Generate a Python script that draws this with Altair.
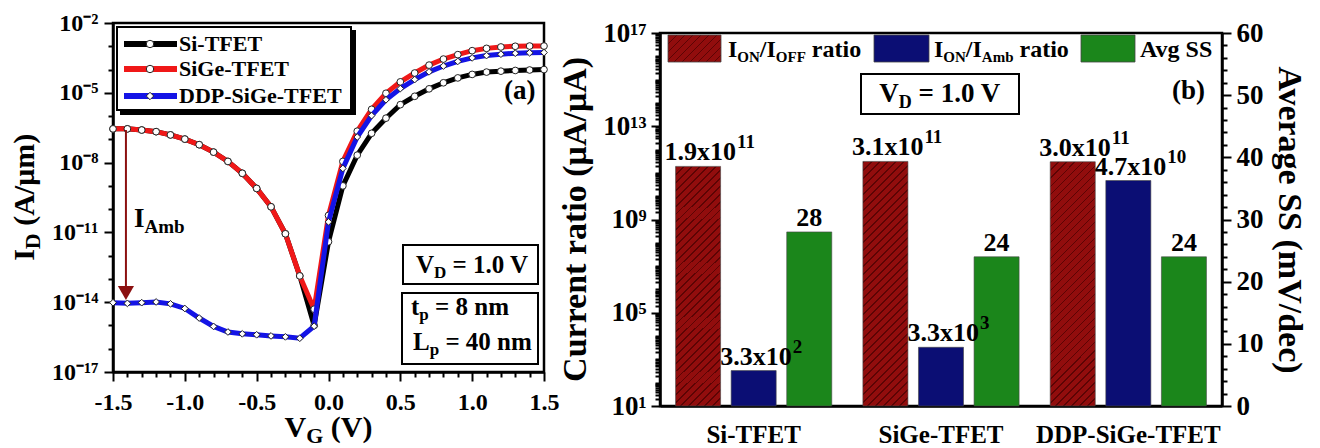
import altair as alt
import pandas as pd

FONT = "Liberation Serif"

# ---------------- panel (a): transfer characteristics ----------------
vg = [round(-1.5 + 0.1 * i, 1) for i in range(31)]
series_a = ["Si-TFET", "SiGe-TFET", "DDP-SiGe-TFET"]
# log10(I_D [A/um]), one value per V_G step
log_id_si = [-6.55, -6.55, -6.60, -6.67, -6.81, -6.99, -7.23, -7.55, -7.95, -8.46,
             -9.11, -9.90, -11.06, -12.87, -15.00, -11.40, -9.00, -7.68, -6.74, -6.09,
             -5.51, -5.15, -4.83, -4.57, -4.36, -4.21, -4.11, -4.07, -4.04, -4.02, -4.00]
log_id_sige = [-6.55, -6.55, -6.60, -6.67, -6.81, -6.99, -7.23, -7.55, -7.95, -8.46,
               -9.11, -9.90, -11.06, -12.87, -14.30, -10.27, -7.95, -6.65, -5.71, -5.02,
               -4.53, -4.15, -3.81, -3.55, -3.36, -3.19, -3.09, -3.03, -3.00, -2.99, -2.99]
log_id_ddp = [-14.02, -14.05, -14.02, -13.99, -14.07, -14.27, -14.68, -15.04, -15.28, -15.36,
              -15.40, -15.45, -15.49, -15.55, -15.03, -10.55, -8.25, -6.90, -5.98, -5.30,
              -4.82, -4.43, -4.10, -3.85, -3.65, -3.50, -3.40, -3.34, -3.30, -3.28, -3.27]
colors_a = ["#000000", "#f01818", "#1414e6"]
shapes_a = ["circle", "circle", "diamond"]
amb_arrow_v = -1.41
amb_arrow_from = -6.6
amb_arrow_to = -13.6

# ---------------- panel (b): figures of merit ----------------
devices = ["Si-TFET", "SiGe-TFET", "DDP-SiGe-TFET"]
bar_series = ["ION/IOFF ratio", "ION/IAmb ratio", "Avg SS"]
ion_ioff = [1.9e11, 3.1e11, 3.0e11]
ion_iamb = [3.3e2, 3.3e3, 4.7e10]
avg_ss = [28, 24, 24]
bar_colors = ["#910d0d", "#0b0e74", "#1b861b"]
hatch_color = "#5c0404"

SUP = str.maketrans("0123456789-", "⁰¹²³⁴⁵⁶⁷⁸⁹⁻")


def p10(e):
    return "10" + str(e).translate(SUP)


WID = {'I': .389, 'O': .778, 'N': .722, 'F': .611, '/': .278, ' ': .25, 'r': .444, 'a': .5,
       't': .333, 'i': .278, 'o': .5, 'A': .722, 'm': .833, 'b': .556, 'D': .722, 'V': .722,
       '=': .57, '.': .25, 'S': .556, 'v': .5, 'g': .5, 'T': .667, 'E': .667, '-': .333,
       'P': .611, 'G': .778, 'e': .444, 'x': .5, 'n': .556, 'L': .667, 'p': .556, '(': .333,
       ')': .333, 'μ': .556, 'd': .556, 'c': .444, 's': .389, 'u': .556, 'C': .722}


def tw(s, size):
    return sum(WID.get(c, 0.5) for c in s) * size


def rich(parts, x, y, angle=0):
    """Lay out text pieces (text, size, baseline shift) one after another."""
    rows, cx = [], 0.0
    for text, size, shift in parts:
        lead = len(text) - len(text.lstrip(" "))
        cx += tw(" " * lead, size)
        body = text.lstrip(" ")
        if angle == 0:
            rows.append({"px": x + cx, "py": y + shift, "t": body, "fs": size, "ang": 0})
        else:
            rows.append({"px": x + shift, "py": y - cx, "t": body, "fs": size, "ang": 270})
        cx += tw(body, size)
    return rows


def parts_width(parts):
    return sum(tw(t, s) for t, s, _ in parts)


def text_layer(rows):
    return alt.Chart(pd.DataFrame(rows)).mark_text(
        align="left", baseline="alphabetic", font=FONT, fontWeight="bold", color="black"
    ).encode(
        x=alt.X("px:Q", scale=None, axis=None),
        y=alt.Y("py:Q", scale=None, axis=None),
        text="t:N",
        size=alt.Size("fs:Q", scale=None, legend=None),
        angle=alt.Angle("ang:Q", scale=None, legend=None),
    )


def rect_layer(rows, sw=2):
    return alt.Chart(pd.DataFrame(rows)).mark_rect(strokeWidth=sw).encode(
        x=alt.X("x1:Q", scale=None, axis=None), x2="x2:Q",
        y=alt.Y("y1:Q", scale=None, axis=None), y2="y2:Q",
        fill=alt.Fill("fill:N", scale=None, legend=None),
        stroke=alt.Stroke("stroke:N", scale=None, legend=None),
    )


def hatch(w, h, period=8.0, line=1.8, base=bar_colors[0], ink=hatch_color):
    """Diagonal '/' hatching for a box of about w x h pixels, as a striped linear gradient."""
    c = (w + h) / (w * w + h * h)
    span = w + h
    stops, k = [], 0
    while k * period < span:
        a = k * period / span
        b = min((k * period + line) / span, 1.0)
        e = min((k + 1) * period / span, 1.0)
        stops += [alt.GradientStop(offset=a, color=ink), alt.GradientStop(offset=b, color=ink),
                  alt.GradientStop(offset=b, color=base), alt.GradientStop(offset=e, color=base)]
        k += 1
    return alt.LinearGradient(gradient="linear", stops=stops, x1=0, y1=0, x2=w * c, y2=h * c)


# ---------------- axes helpers ----------------
E = "round(log(datum.value)/LN10)"
E_RAW = "(log(datum.value)/LN10)"


def pow_label_expr(exps):
    s = "''"
    for e in exps:
        s = f"({E} == {e} ? '{p10(e)}' : {s})"
    return s


W_A, H_A = 431, 349
W_B, H_B = 562, 373

majors_a = [-2, -5, -8, -11, -14, -17]
maj_a_test = " || ".join(f"{E} == {e}" for e in majors_a)
y_axis_a = alt.Axis(
    values=[10.0 ** e for e in range(-17, -1)],
    labelExpr=pow_label_expr(majors_a),
    tickSize={"condition": {"test": maj_a_test, "value": 9}, "value": 5},
    labelFontSize=24, labelPadding=6, labelFlush=False, title=None,
)
maj_x_test = "abs(datum.value*2 - round(datum.value*2)) < 0.001"
x_axis_a = alt.Axis(
    values=vg,
    labelExpr=f"{maj_x_test} ? (datum.value < -0.01 ? '-' : '') + format(abs(datum.value), '.1f') : ''",
    tickSize={"condition": {"test": maj_x_test, "value": 9}, "value": 5},
    labelFontSize=24, labelPadding=9, labelFlush=False, title=None,
)
xa = alt.X("V:Q", scale=alt.Scale(domain=[-1.5, 1.5], nice=False, zero=False), axis=x_axis_a)
ya = alt.Y("I:Q", scale=alt.Scale(type="log", domain=[1e-17, 1e-2], nice=False), axis=y_axis_a)

layers_a = []
for name, logs, col, shp in zip(series_a, [log_id_si, log_id_sige, log_id_ddp], colors_a, shapes_a):
    d = pd.DataFrame({"V": vg, "I": [10.0 ** v for v in logs], "series": name})
    layers_a.append(alt.Chart(d).mark_line(color=col, strokeWidth=5).encode(x=xa, y=ya))
    layers_a.append(alt.Chart(d).mark_point(shape=shp, filled=True, fill="white", stroke="#222",
                                            strokeWidth=1, size=45, opacity=1).encode(x=xa, y=ya))

arrow_df = pd.DataFrame({"V": [amb_arrow_v], "I": [10.0 ** amb_arrow_from], "I2": [10.0 ** amb_arrow_to]})
layers_a.append(alt.Chart(arrow_df).mark_rule(color="#8b1010", strokeWidth=2).encode(x=xa, y=ya, y2="I2:Q"))
tip_df = pd.DataFrame({"V": [amb_arrow_v], "I": [10.0 ** amb_arrow_to]})
layers_a.append(alt.Chart(tip_df).mark_point(shape="triangle-down", filled=True, color="#8b1010",
                                             size=260, opacity=1).encode(x=xa, y=ya))

# legend of panel (a)
leg_y = [21, 46, 73]
layers_a.append(rect_layer([
    {"x1": 8, "x2": 242, "y1": 8, "y2": 91, "fill": "black", "stroke": "black"},
    {"x1": 4, "x2": 238, "y1": 4, "y2": 87, "fill": "white", "stroke": "black"},
]))
leg_lines = pd.DataFrame({"x1": 11, "x2": 64, "y": leg_y, "c": colors_a})
layers_a.append(alt.Chart(leg_lines).mark_rule(strokeWidth=6).encode(
    x=alt.X("x1:Q", scale=None, axis=None), x2="x2:Q",
    y=alt.Y("y:Q", scale=None, axis=None), stroke=alt.Stroke("c:N", scale=None, legend=None)))
leg_pts = pd.DataFrame({"x": 37, "y": leg_y, "s": shapes_a})
layers_a.append(alt.Chart(leg_pts).mark_point(filled=True, fill="white", stroke="#222", strokeWidth=1,
                                              size=55, opacity=1).encode(
    x=alt.X("x:Q", scale=None, axis=None), y=alt.Y("y:Q", scale=None, axis=None),
    shape=alt.Shape("s:N", scale=None, legend=None)))

rows_a = []
for name, yy in zip(series_a, leg_y):
    rows_a += rich([(name, 22, 0)], 66, yy + 7)
rows_a += rich([("I", 27, 0), ("Amb", 19, 6)], 21, 204)
rows_a += rich([("(a)", 27, 0)], 391, 76)
rows_a += rich([("V", 25, 0), ("D", 17, 5), (" = 1.0 V", 25, 0)], 303, 250)
rows_a += rich([("t", 25, 0), ("p", 17, 5), (" = 8 nm", 25, 0)], 298, 292)
rows_a += rich([("L", 25, 0), ("p", 17, 5), (" = 40 nm", 25, 0)], 300, 327)
ttl_parts = [("I", 30, 0), ("D", 22, 6), (" (A/μm)", 30, 0)]
rows_a += rich(ttl_parts, -79, H_A / 2 + parts_width(ttl_parts) / 2, angle=270)
xt_parts = [("V", 30, 0), ("G", 22, 6), (" (V)", 30, 0)]
rows_a += rich(xt_parts, W_A / 2 - parts_width(xt_parts) / 2, 414)
layers_a.append(rect_layer([
    {"x1": 290, "x2": 425, "y1": 222, "y2": 261, "fill": "white", "stroke": "black"},
    {"x1": 289, "x2": 425, "y1": 270, "y2": 341, "fill": "white", "stroke": "black"},
]))
layers_a.append(text_layer(rows_a))

panel_a = alt.layer(*layers_a).properties(width=W_A, height=H_A)

# ---------------- panel (b) ----------------
def sci_parts(v):
    e = len(str(int(v))) - 1
    m = v / 10 ** e
    return f"{m:.1f}x10", str(e)


ratio_rows = []
for dev, a, b in zip(devices, ion_ioff, ion_iamb):
    for ser, v in ((bar_series[0], a), (bar_series[1], b)):
        mb, me = sci_parts(v)
        ratio_rows.append({"device": dev, "series": ser, "value": v, "base": 10.0, "mb": mb, "me": me})
df_ratio = pd.DataFrame(ratio_rows)
df_onoff = df_ratio[df_ratio["series"] == bar_series[0]]
df_onamb = df_ratio[df_ratio["series"] == bar_series[1]]
df_ss = pd.DataFrame({"device": devices, "series": bar_series[2], "ss": avg_ss,
                      "lbl": [str(v) for v in avg_ss]})

xb = alt.X("device:N", sort=devices,
           scale=alt.Scale(domain=devices, paddingInner=0, paddingOuter=0),
           axis=alt.Axis(title=None, ticks=False, labelAngle=0, labelPadding=16, labelFontSize=25,
                         labelLimit=0))
xo = alt.XOffset("series:N", scale=alt.Scale(domain=bar_series, paddingInner=0.19, paddingOuter=0.28))

log_ticks_b = [k * 10.0 ** n for n in range(1, 17) for k in range(1, 10)] + [1e17]
majors_b = [1, 5, 9, 13, 17]
maj_b_test = f"abs({E_RAW} - {E}) < 1e-6 && (" + " || ".join(f"{E} == {e}" for e in majors_b) + ")"
lbl_b = f"abs({E_RAW} - {E}) < 1e-6 ? {pow_label_expr(majors_b)} : ''"
scale_ratio = alt.Scale(type="log", domain=[10, 1e17], nice=False)
scale_ss = alt.Scale(domain=[0, 60], nice=False, zero=True)
yb = alt.Y("value:Q", scale=scale_ratio,
           axis=alt.Axis(values=log_ticks_b, labelExpr=lbl_b, title=None, labelFontSize=27,
                         labelPadding=5, labelFlush=False,
                         tickSize={"condition": {"test": maj_b_test, "value": 9}, "value": 5}))
yb_noaxis = alt.Y("value:Q", scale=scale_ratio, axis=None)
yss = alt.Y("ss:Q", scale=scale_ss,
            axis=alt.Axis(orient="right", values=list(range(0, 61, 2)),
                          labelExpr="datum.value % 10 == 0 ? format(datum.value, 'd') : ''",
                          tickSize={"condition": {"test": "datum.value % 10 == 0", "value": 9}, "value": 5},
                          labelFontSize=27, labelPadding=5, labelFlush=False, title="Average SS (mV/dec)",
                          titleAngle=90, titleFontSize=34, titlePadding=8))
yss_noaxis = alt.Y("ss:Q", scale=scale_ss, axis=None)

onoff_bars = alt.Chart(df_onoff).mark_bar(fill=hatch(45, 244), stroke="#444", strokeWidth=0.6).encode(
    x=xb, xOffset=xo, y=yb, y2="base:Q")
onamb_bars = alt.Chart(df_onamb).mark_bar(fill=bar_colors[1], stroke="#444", strokeWidth=0.6).encode(
    x=xb, xOffset=xo, y=yb_noaxis, y2="base:Q")
ss_bars = alt.Chart(df_ss).mark_bar(fill=bar_colors[2], stroke="#444", strokeWidth=0.6).encode(
    x=xb, xOffset=xo, y=yss)
ratio_mant = alt.Chart(df_ratio).mark_text(align="right", baseline="alphabetic", dx=38, dy=-6,
                                           font=FONT, fontWeight="bold", fontSize=26, color="black").encode(
    x=xb, xOffset=xo, y=yb_noaxis, text="mb:N")
ratio_exp = alt.Chart(df_ratio).mark_text(align="left", baseline="alphabetic", dx=39, dy=-18,
                                          font=FONT, fontWeight="bold", fontSize=19, color="black").encode(
    x=xb, xOffset=xo, y=yb_noaxis, text="me:N")
ss_text = alt.Chart(df_ss).mark_text(align="center", baseline="alphabetic", dy=-6, font=FONT,
                                     fontWeight="bold", fontSize=26, color="black").encode(
    x=xb, xOffset=xo, y=yss_noaxis, text="lbl:N")

rows_b = []
rows_b += rich([("I", 24, 0), ("ON", 15, 5), ("/I", 24, 0), ("OFF", 15, 5), (" ratio", 24, 0)], 68, 24)
rows_b += rich([("I", 24, 0), ("ON", 15, 5), ("/I", 24, 0), ("Amb", 15, 5), (" ratio", 24, 0)], 274, 24)
rows_b += rich([("Avg SS", 24, 0)], 480, 24)
rows_b += rich([("(b)", 27, 0)], 512, 66)
vd_parts = [("V", 27, 0), ("D", 18, 6), (" = 1.0 V", 27, 0)]
rows_b += rich(vd_parts, 280 - parts_width(vd_parts) / 2, 69)
cr_parts = [("Current ratio (μA/μA)", 34, 0)]
rows_b += rich(cr_parts, -74, H_B / 2 + parts_width(cr_parts) / 2, angle=270)

swatch_red = alt.Chart(pd.DataFrame({"x1": [8], "x2": [61], "y1": [2], "y2": [29]})).mark_rect(
    fill=hatch(53, 27), stroke="#444", strokeWidth=0.8).encode(
    x=alt.X("x1:Q", scale=None, axis=None), x2="x2:Q",
    y=alt.Y("y1:Q", scale=None, axis=None), y2="y2:Q")
sw_rows = [
    {"x1": 214, "x2": 269, "y1": 2, "y2": 29, "fill": bar_colors[1], "stroke": "#444"},
    {"x1": 421, "x2": 475, "y1": 2, "y2": 29, "fill": bar_colors[2], "stroke": "#444"},
]
box_b = [{"x1": 201, "x2": 359, "y1": 41, "y2": 81, "fill": "white", "stroke": "black"}]

panel_b = alt.layer(
    onoff_bars,
    onamb_bars,
    ss_bars,
    alt.layer(ratio_mant, ratio_exp),
    ss_text,
    swatch_red,
    rect_layer(sw_rows, sw=0.8),
    rect_layer(box_b),
    text_layer(rows_b),
).resolve_scale(y="independent").properties(width=W_B, height=H_B)

# small invisible strip above panel (b): its frame sits lower than panel (a)'s
strip = alt.Chart(pd.DataFrame({"k": [0]})).mark_rule(strokeOpacity=0).encode(
    x=alt.value(0), y=alt.value(0), y2=alt.value(1)
).properties(width=W_B, height=1, view=alt.ViewBackground(stroke="transparent"))

right = alt.vconcat(strip, panel_b, spacing=9, bounds="flush")

chart = alt.hconcat(panel_a, right, spacing=-4).properties(
    padding={"left": 8, "top": 9, "right": 0, "bottom": 0}
).configure_view(stroke="black", strokeWidth=2.5).configure_axis(
    labelFont=FONT, labelFontWeight="bold", labelColor="black",
    titleFont=FONT, titleFontWeight="bold", titleColor="black",
    domainColor="black", domainWidth=2.5, tickColor="black", tickWidth=2, grid=False,
)

chart.save("out.html", embed_options={"renderer": "svg", "actions": False})
